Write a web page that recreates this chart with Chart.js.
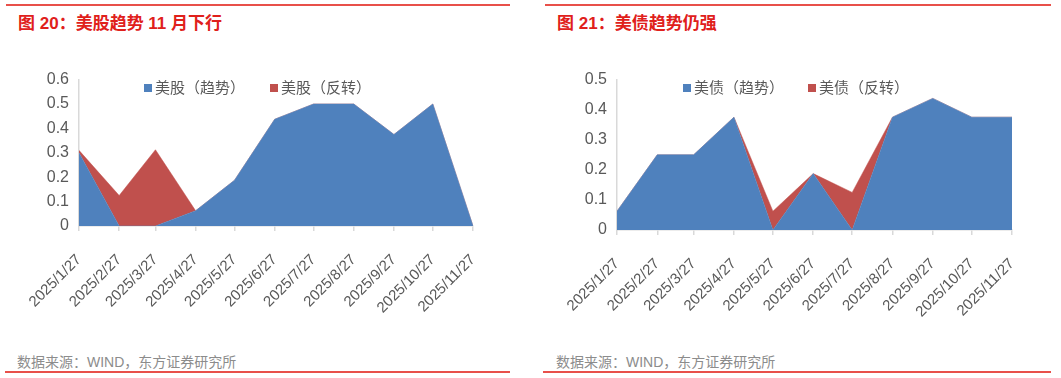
<!DOCTYPE html>
<html>
<head>
<meta charset="utf-8">
<script src="https://cdn.jsdelivr.net/npm/chart.js@4.4.1/dist/chart.umd.min.js"></script>
<style>
  html,body{margin:0;padding:0;background:#fff;width:1061px;height:378px;overflow:hidden;font-family:"Liberation Sans","Noto Sans CJK SC",sans-serif;}
  .rule{position:absolute;height:2px;background:#e8504a;}
  .title{position:absolute;top:9px;font:bold 17px "Liberation Sans","Noto Sans CJK SC",sans-serif;color:#e0201b;white-space:nowrap;}
  .src{position:absolute;top:351px;font:14px "Liberation Sans","Noto Sans CJK SC",sans-serif;color:#8c8c8c;white-space:nowrap;}
  .box{position:absolute;top:60px;height:265px;}
  .lg{position:absolute;top:78px;font:15px "Noto Sans CJK SC",sans-serif;color:#595959;white-space:nowrap;line-height:18px;}
  .sw{display:inline-block;width:8px;height:8px;margin-right:3px;vertical-align:1px;}
</style>
</head>
<body>
<div class="rule" style="left:6px;width:504px;top:4px"></div>
<div class="rule" style="left:545px;width:506px;top:4px"></div>
<div class="rule" style="left:5px;width:505px;top:371px"></div>
<div class="rule" style="left:543px;width:508px;top:371px"></div>
<div class="title" style="left:18px">图 20：美股趋势 11 月下行</div>
<div class="title" style="left:557px">图 21：美债趋势仍强</div>
<div class="src" style="left:17px">数据来源：WIND，东方证券研究所</div>
<div class="src" style="left:556px">数据来源：WIND，东方证券研究所</div>

<div class="box" style="left:0;width:530px"><canvas id="c1"></canvas></div>
<div class="box" style="left:530px;width:531px"><canvas id="c2"></canvas></div>

<div class="lg" style="left:144px"><span class="sw" style="background:#4f81bd"></span>美股（趋势）</div>
<div class="lg" style="left:270px"><span class="sw" style="background:#c0504d"></span>美股（反转）</div>
<div class="lg" style="left:683px"><span class="sw" style="background:#4f81bd"></span>美债（趋势）</div>
<div class="lg" style="left:808px"><span class="sw" style="background:#c0504d"></span>美债（反转）</div>

<script>
// 数据：月度观测日期与两个指标（趋势 / 反转）
const dates = ['2025/1/27','2025/2/27','2025/3/27','2025/4/27','2025/5/27','2025/6/27',
               '2025/7/27','2025/8/27','2025/9/27','2025/10/27','2025/11/27'];
const stockTrend    = [0.30, 0, 0, 0.0625, 0.1875, 0.4375, 0.5, 0.5, 0.375, 0.5, 0];
const stockReversal = [0.01, 0.125, 0.3125, 0, 0, 0, 0, 0, 0, 0, 0];
const bondTrend     = [0.0625, 0.25, 0.25, 0.375, 0, 0.1875, 0, 0.375, 0.4375, 0.375, 0.375];
const bondReversal  = [0, 0, 0, 0, 0.0625, 0, 0.125, 0, 0, 0, 0];

// 日期轴：按天数换算成线性刻度（没有 date adapter）
const t0 = Date.UTC(2025,0,27);
const dayOf = s => { const [y,m,d]=s.split('/').map(Number); return (Date.UTC(y,m-1,d)-t0)/86400000; };
const days = dates.map(dayOf);
const labelByDay = {}; days.forEach((v,i)=>labelByDay[v]=dates[i]);

const gridCol = '#d9d9d9', txt = '#595959';

function makeChart(id, trend, rev, yMax, yWidth, xHeight, padRight){
  const pts = arr => arr.map((v,i)=>({x:days[i], y:v}));
  return new Chart(document.getElementById(id).getContext('2d'), {
    type:'line',
    data:{datasets:[
      {data:pts(trend), backgroundColor:'#4f81bd', borderColor:'#4f81bd', borderWidth:0.5, pointRadius:0, tension:0, fill:'origin'},
      {data:pts(rev), backgroundColor:'#c0504d', borderColor:'#c0504d', borderWidth:0.5, pointRadius:0, tension:0, fill:'-1'},
    ]},
    options:{
      responsive:true, maintainAspectRatio:false, animation:false,
      layout:{padding:{top:13, right:padRight, left:0, bottom:0}},
      plugins:{legend:{display:false}, tooltip:{enabled:false}},
      scales:{
        x:{type:'linear', min:days[0], max:days[days.length-1],
           afterBuildTicks:s=>{ s.ticks = days.map(v=>({value:v})); },
           afterFit:s=>{ s.height = xHeight; },
           border:{display:true, color:gridCol, width:1.5},
           grid:{drawOnChartArea:false, color:gridCol, tickLength:5, lineWidth:1.5},
           ticks:{autoSkip:false, minRotation:45, maxRotation:45, color:txt, padding:20,
                  font:{family:'"Liberation Sans", Arial, sans-serif', size:15},
                  callback:v=>labelByDay[v] || ''}},
        y:{stacked:true, min:0, max:yMax,
           afterFit:s=>{ s.width = yWidth; },
           border:{display:true, color:gridCol, width:1.5},
           grid:{drawOnChartArea:false, drawTicks:false},
           ticks:{stepSize:0.1, color:txt, padding:10,
                  font:{family:'"Liberation Sans", Arial, sans-serif', size:16}}}
      }
    }
  });
}

makeChart('c1', stockTrend, stockReversal, 0.6, 79, 99, 57);
makeChart('c2', bondTrend, bondReversal, 0.5, 87, 95, 49);
</script>
</body>
</html>
